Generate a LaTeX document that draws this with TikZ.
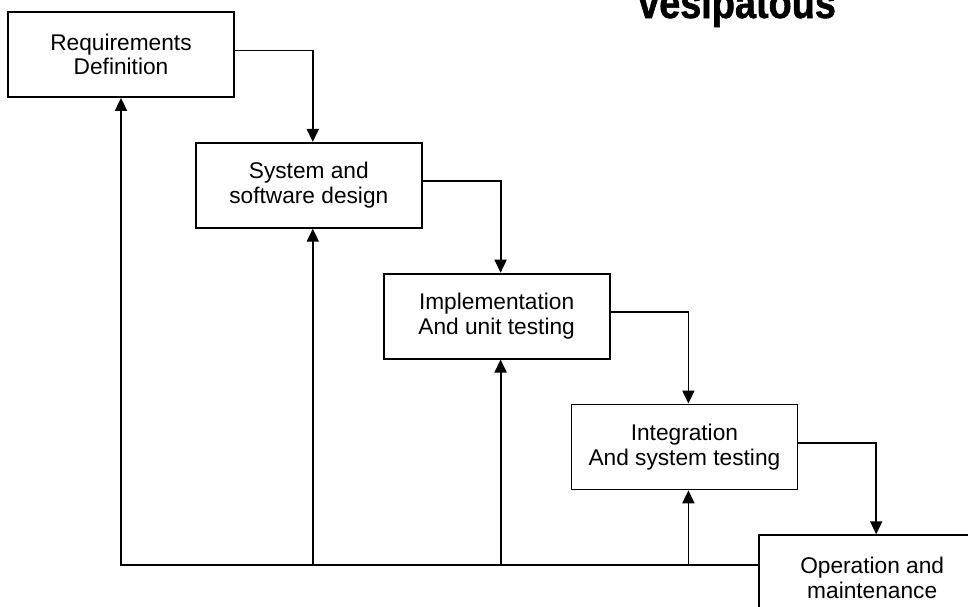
\documentclass[tikz,border=0pt]{standalone}
\usepackage{fontspec}
\setmainfont{Liberation Sans}
\newfontfamily\headfont[FakeStretch=0.86, FakeBold=1.2]{Liberation Sans}
\usetikzlibrary{arrows.meta, positioning}

\begin{document}
\begin{tikzpicture}[
  node distance=44pt and -40pt,
  every node/.style={font=\fontsize{22.7}{24.5}\selectfont},
  phase/.style={
    draw, line width=1.8pt, fill=white,
    minimum width=226pt, minimum height=85pt,
    align=center, inner sep=4pt
  },
  arrow/.style={-{Triangle[length=13pt, width=12pt]}, line width=1.8pt},
  title/.style={font=\headfont\bfseries\fontsize{44}{44}\selectfont, inner sep=0pt}
]

  % frame of the picture (box 5 and the title run over its edges)
  \clip (-121pt,54.5pt) rectangle (847pt,-551.5pt);

  % Fasi, a scala
  \node[phase] (req) at (0,0) {Requirements\\Definition};
  \node[phase, below right=of req] (design) {System and\\software design};
  \node[phase, below right=of design] (impl) {Implementation\\And unit testing};
  \node[phase, below right=of impl] (integ) {Integration\\And system testing};
  \node[phase, below right=of integ] (ops) {Operation and\\maintenance};

  % titolo tagliato in alto
  \node[title, anchor=base west] (head) at (517pt,36.5pt) {vesipatous};

  % linea di ritorno in basso
  \coordinate (base) at (0,-510.5pt);

  % Frecce verso la fase successiva
  \foreach \a/\b in {req/design, design/impl, impl/integ, integ/ops}
    \draw[arrow] ([yshift=4pt]\a.east) -| ([xshift=4pt]\b.north);

  % Frecce di ritorno
  \draw[arrow] (ops.west |- base) -| (req.south);
  \foreach \n in {design, impl, integ}
    \draw[arrow] ([xshift=4pt]\n.south |- base) -- ([xshift=4pt]\n.south);

\end{tikzpicture}
\end{document}
